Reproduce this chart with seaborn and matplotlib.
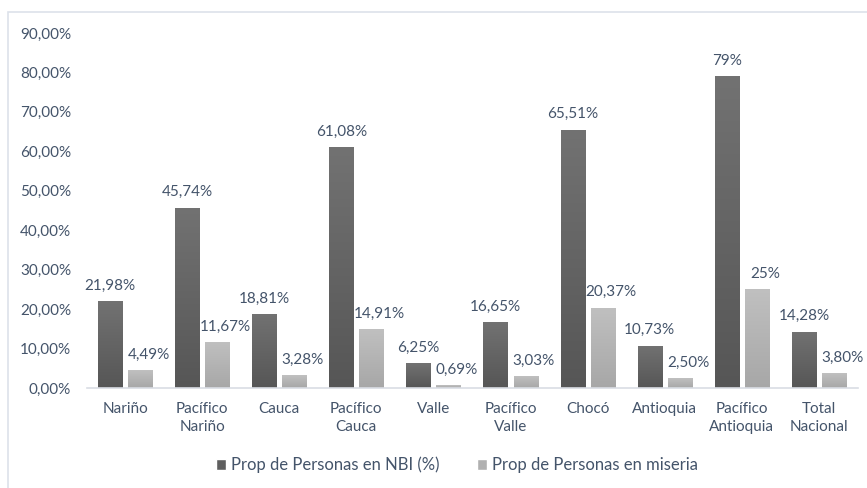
import numpy as np
import pandas as pd
import matplotlib
matplotlib.use("Agg")
import matplotlib.pyplot as plt
import seaborn as sns
from matplotlib.colors import LinearSegmentedColormap
from matplotlib.patches import Rectangle, Patch

regiones = ["Nariño", "Pacífico\nNariño", "Cauca", "Pacífico\nCauca", "Valle",
            "Pacífico\nValle", "Chocó", "Antioquia", "Pacífico\nAntioquia", "Total\nNacional"]
nbi = [21.98, 45.74, 18.81, 61.08, 6.25, 16.65, 65.51, 10.73, 79.0, 14.28]
miseria = [4.49, 11.67, 3.28, 14.91, 0.69, 3.03, 20.37, 2.50, 25.0, 3.80]
nbi_txt = ["21,98%", "45,74%", "18,81%", "61,08%", "6,25%", "16,65%", "65,51%", "10,73%", "79%", "14,28%"]
mis_txt = ["4,49%", "11,67%", "3,28%", "14,91%", "0,69%", "3,03%", "20,37%", "2,50%", "25%", "3,80%"]
serie_nbi = "Prop de Personas en NBI (%)"
serie_mis = "Prop de Personas en miseria"
y_ticks = [0, 10, 20, 30, 40, 50, 60, 70, 80, 90]

TXT = "#44546a"
FS = 11

sns.set_theme(style="white")
plt.rcParams["font.family"] = ["Lato", "DejaVu Sans"]

df = pd.DataFrame({
    "region": regiones * 2,
    "valor": nbi + miseria,
    "serie": [serie_nbi] * len(nbi) + [serie_mis] * len(miseria),
})

fig = plt.figure(figsize=(8.67, 4.88), dpi=100)
ax = fig.add_axes([86.5 / 867, 100 / 488, 771 / 867, 355 / 488])

sns.barplot(data=df, x="region", y="valor", hue="serie", order=regiones,
            hue_order=[serie_nbi, serie_mis],
            palette=["#5f5f5f", "#b0b0b0"], width=0.78, gap=0.2,
            errorbar=None, legend=False, ax=ax)

# vertical gradient fill like the original
grads = {
    0: LinearSegmentedColormap.from_list("d", ["#565656", "#727272"]),
    1: LinearSegmentedColormap.from_list("l", ["#a7a7a7", "#c0c0c0"]),
}
ramp = np.linspace(0, 1, 256).reshape(-1, 1)
bars = list(ax.patches)
n = len(regiones)
for i, p in enumerate(bars):
    x0, y0 = p.get_x(), p.get_y()
    w, h = p.get_width(), p.get_height()
    if h <= 0:
        continue
    im = ax.imshow(ramp, cmap=grads[i // n], origin="lower", aspect="auto",
                   extent=[x0, x0 + w, y0, y0 + h], zorder=p.get_zorder() + 0.1)
    im.set_clip_path(p)

# data labels (the light-series labels sit a bit to the right, as in Excel)
labels = nbi_txt + mis_txt
for i, (p, lab) in enumerate(zip(bars, labels)):
    dx = 0 if i < n else 6
    ax.annotate(lab, (p.get_x() + p.get_width() / 2, p.get_height()),
                xytext=(dx, 6), textcoords="offset points", ha="center", va="bottom",
                fontsize=FS, color=TXT, zorder=10)

ax.set_xlim(-0.5, n - 0.5)
ax.set_ylim(0, 90)
ax.set_yticks(y_ticks)
ax.set_yticklabels([f"{v:.2f}%".replace(".", ",") for v in y_ticks])
ax.set_xlabel("")
ax.set_ylabel("")
ax.tick_params(axis="both", length=0, labelsize=FS, labelcolor=TXT)
ax.tick_params(axis="y", pad=11)
ax.tick_params(axis="x", pad=10)
for t in ax.get_xticklabels():
    t.set_linespacing(1.35)
for s in ["top", "right", "left"]:
    ax.spines[s].set_visible(False)
ax.spines["bottom"].set_color("#d9dde4")
ax.spines["bottom"].set_linewidth(1.2)
ax.grid(False)

handles = [Patch(facecolor="#5f5f5f", label=serie_nbi),
           Patch(facecolor="#b0b0b0", label=serie_mis)]
fig.legend(handles=handles, loc="center", bbox_to_anchor=(457 / 867, 23 / 488), ncol=2,
           frameon=False, fontsize=12, labelcolor=TXT, handlelength=0.6,
           handleheight=0.6, handletextpad=0.3, columnspacing=2.2)

fig.patches.append(Rectangle((8 / 867, -0.05), 1.1, 1 - 12 / 488 + 0.05,
                             transform=fig.transFigure, fill=False,
                             edgecolor="#dde2ea", linewidth=1.2))

fig.savefig("out.png", dpi=100)
